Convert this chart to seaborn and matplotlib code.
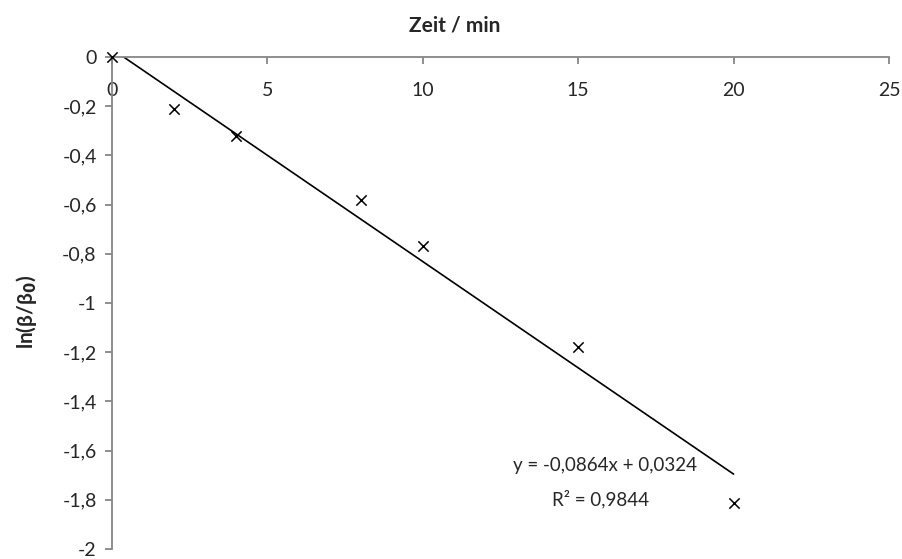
import numpy as np
import pandas as pd
import matplotlib
matplotlib.use("Agg")
import matplotlib.pyplot as plt
import seaborn as sns
from matplotlib.ticker import FuncFormatter

# Data
zeit = [0, 2, 4, 8, 10, 15, 20]
ln_ratio = [0.0, -0.21, -0.32, -0.58, -0.77, -1.18, -1.815]
slope = -0.0864
intercept = 0.0324
r2 = 0.9844
x_ticks = [0, 5, 10, 15, 20, 25]
y_ticks = [0, -0.2, -0.4, -0.6, -0.8, -1.0, -1.2, -1.4, -1.6, -1.8, -2.0]

sns.set_theme(style="white")
plt.rcParams["font.family"] = ["Lato", "DejaVu Sans"]

df = pd.DataFrame({"Zeit": zeit, "ln": ln_ratio})
x_line = np.array([min(zeit), max(zeit)])
df_line = pd.DataFrame({"Zeit": x_line, "ln": slope * x_line + intercept})

fig = plt.figure(figsize=(9.03, 5.59), dpi=100)
ax = fig.add_axes([112 / 903, 1 - 549 / 559, (889 - 112) / 903, (549 - 57) / 559])

sns.lineplot(data=df_line, x="Zeit", y="ln", ax=ax, color="black", linewidth=1.2)
sns.scatterplot(data=df, x="Zeit", y="ln", ax=ax, marker="x", color="black",
                s=55, linewidth=1.1, clip_on=False, zorder=5)

ax.set_xlim(0, 25)
ax.set_ylim(-2, 0)
ax.set_xticks(x_ticks)
ax.set_yticks(y_ticks)

def comma(v, pos):
    s = f"{v:g}"
    if s == "-0":
        s = "0"
    return s.replace(".", ",")

ax.xaxis.set_major_formatter(FuncFormatter(comma))
ax.yaxis.set_major_formatter(FuncFormatter(comma))

grey = "#868686"
for side in ["right", "top"]:
    ax.spines[side].set_visible(False)
ax.spines["bottom"].set_position(("data", 0))
ax.spines["bottom"].set_color(grey)
ax.spines["left"].set_color(grey)
ax.spines["bottom"].set_linewidth(1.3)
ax.spines["left"].set_linewidth(1.3)

ax.tick_params(axis="x", direction="out", length=5, width=1.3, color=grey,
               labelsize=14, pad=13, bottom=True)
ax.tick_params(axis="y", direction="out", length=5, width=1.3, color=grey,
               labelsize=14, pad=6, left=True)
ax.set_xlabel("")
ax.set_ylabel("")

fig.text(455 / 903, 1 - 25 / 559, "Zeit / min", ha="center", va="center",
         fontsize=15, fontweight="bold")
fig.text(27 / 903, 1 - 312 / 559, r"ln(β/β$_\mathbf{0}$)", ha="center", va="center",
         rotation=90, fontsize=15, fontweight="bold")

sl = f"{slope:.4f}".replace(".", ",")
ic = f"{intercept:.4f}".replace(".", ",")
rr = f"{r2:.4f}".replace(".", ",")
fig.text(605 / 903, 1 - 466 / 559, f"y = {sl}x + {ic}", ha="center", va="center", fontsize=13.5)
fig.text(600 / 903, 1 - 499 / 559, f"R² = {rr}", ha="center", va="center", fontsize=13.5)

fig.savefig("out.png", dpi=100)
